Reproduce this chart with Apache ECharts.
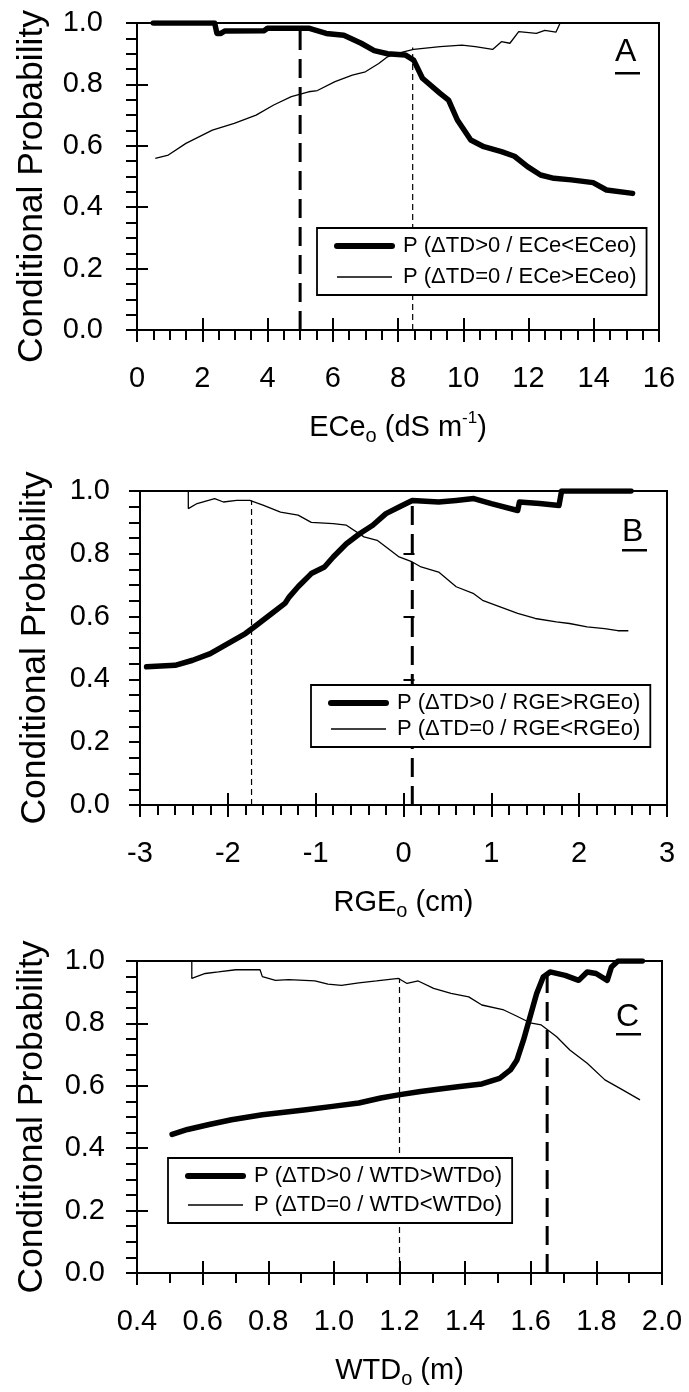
<!DOCTYPE html>
<html>
<head>
<meta charset="utf-8">
<script src="https://cdn.jsdelivr.net/npm/echarts@6/dist/echarts.min.js"></script>
<style>
html,body{margin:0;padding:0;background:#fff;}
#chart{width:689px;height:1392px;}
</style>
</head>
<body>
<div id="chart"></div>
<script>
// ---------- Panel A: ECe_o ----------
const aThickX = [0.5, 2.38, 2.45, 2.57, 2.7, 3.9, 4.0, 5.26, 5.8, 6.34, 6.87, 7.27, 7.68, 8.22, 8.48, 8.75, 9.29, 9.55, 9.82, 10.23, 10.63, 11.17, 11.57, 11.97, 12.37, 12.78, 13.31, 13.98, 14.39, 15.19];
const aThickY = [1.0, 1.0, 0.966, 0.966, 0.974, 0.975, 0.983, 0.983, 0.966, 0.96, 0.934, 0.91, 0.9, 0.896, 0.879, 0.82, 0.771, 0.749, 0.684, 0.619, 0.597, 0.581, 0.566, 0.532, 0.505, 0.494, 0.489, 0.48, 0.456, 0.445];
const aThinX = [0.56, 0.96, 1.5, 2.31, 2.98, 3.65, 4.19, 4.73, 5.26, 5.53, 6.07, 6.6, 7.0, 7.41, 7.68, 7.95, 8.48, 9.29, 9.96, 10.37, 10.9, 11.17, 11.43, 11.7, 12.24, 12.5, 12.84, 12.97, 15.19];
const aThinY = [0.559, 0.57, 0.608, 0.651, 0.673, 0.70, 0.733, 0.76, 0.776, 0.78, 0.809, 0.83, 0.841, 0.868, 0.89, 0.90, 0.914, 0.923, 0.928, 0.923, 0.914, 0.939, 0.934, 0.972, 0.966, 0.976, 0.97, 1.0, 1.0];
const aThreshold = { thick: [5.0, 0.983], thin: [8.45, 0.92] };
const aNames = ['P (\u0394TD>0 / ECe<ECeo)', 'P (\u0394TD=0 / ECe>ECeo)'];

// ---------- Panel B: RGE_o ----------
const bThickX = [-2.925, -2.6, -2.4, -2.2, -2.0, -1.8, -1.7, -1.5, -1.35, -1.3, -1.2, -1.05, -0.9, -0.8, -0.65, -0.5, -0.35, -0.2, -0.05, 0.1, 0.4, 0.6, 0.8, 1.0, 1.3, 1.32, 1.55, 1.77, 1.8, 2.59];
const bThickY = [0.44, 0.445, 0.461, 0.482, 0.514, 0.546, 0.567, 0.61, 0.642, 0.663, 0.695, 0.737, 0.758, 0.79, 0.832, 0.864, 0.891, 0.928, 0.949, 0.97, 0.965, 0.97, 0.976, 0.96, 0.938, 0.965, 0.96, 0.954, 1.0, 1.0];
const bThinX = [-2.9, -2.45, -2.45, -2.35, -2.15, -2.05, -1.9, -1.75, -1.6, -1.4, -1.2, -1.05, -0.8, -0.65, -0.45, -0.3, -0.15, -0.05, 0.1, 0.2, 0.4, 0.6, 0.8, 0.9, 1.1, 1.3, 1.5, 1.74, 1.89, 2.09, 2.29, 2.44, 2.56];
const bThinY = [1.0, 1.0, 0.944, 0.96, 0.976, 0.965, 0.97, 0.97, 0.955, 0.933, 0.923, 0.90, 0.896, 0.891, 0.854, 0.843, 0.811, 0.79, 0.774, 0.758, 0.742, 0.695, 0.673, 0.652, 0.631, 0.61, 0.594, 0.583, 0.578, 0.567, 0.562, 0.555, 0.555];
const bThreshold = { thick: [0.1, 0.97], thin: [-1.73, 0.97] };
const bNames = ['P (\u0394TD>0 / RGE>RGEo)', 'P (\u0394TD=0 / RGE<RGEo)'];

// ---------- Panel C: WTD_o ----------
const cThickX = [0.507, 0.554, 0.62, 0.688, 0.782, 0.849, 0.915, 0.996, 1.076, 1.143, 1.197, 1.264, 1.317, 1.384, 1.451, 1.505, 1.538, 1.558, 1.578, 1.598, 1.618, 1.638, 1.659, 1.705, 1.746, 1.772, 1.799, 1.833, 1.846, 1.866, 1.94];
const cThickY = [0.444, 0.46, 0.476, 0.491, 0.507, 0.515, 0.523, 0.534, 0.545, 0.561, 0.571, 0.582, 0.589, 0.598, 0.606, 0.624, 0.651, 0.683, 0.747, 0.821, 0.896, 0.949, 0.965, 0.954, 0.938, 0.965, 0.96, 0.938, 0.981, 1.0, 1.0];
const cThinX = [0.5, 0.567, 0.567, 0.608, 0.648, 0.701, 0.775, 0.782, 0.822, 0.862, 0.942, 0.982, 1.023, 1.076, 1.13, 1.197, 1.223, 1.257, 1.304, 1.357, 1.411, 1.451, 1.518, 1.558, 1.598, 1.632, 1.679, 1.719, 1.772, 1.826, 1.88, 1.933];
const cThinY = [1.0, 1.0, 0.944, 0.96, 0.965, 0.972, 0.972, 0.95, 0.938, 0.94, 0.936, 0.926, 0.922, 0.93, 0.936, 0.944, 0.928, 0.936, 0.912, 0.896, 0.885, 0.859, 0.843, 0.823, 0.802, 0.795, 0.757, 0.715, 0.672, 0.619, 0.587, 0.555];
const cThreshold = { thick: [1.65, 0.96], thin: [1.2, 0.944] };
const cNames = ['P (\u0394TD>0 / WTD>WTDo)', 'P (\u0394TD=0 / WTD<WTDo)'];

// ---------- Axis tick labels ----------
const yTicks = { min: 0, max: 1, interval: 0.2 };
const xTicksA = { min: 0, max: 16, interval: 2, minor: 4, dec: 0 };
const xTicksB = { min: -3, max: 3, interval: 1, minor: 5, dec: 0 };
const xTicksC = { min: 0.4, max: 2.0, interval: 0.2, minor: 2, dec: 1 };
const yTitle = 'Conditional Probability';
const xTitles = ['{m|ECe}{s|o}{m| (dS m}{p|-1}{m|)}', '{m|RGE}{s|o}{m| (cm)}', '{m|WTD}{s|o}{m| (m)}'];
const panelLetters = ['A', 'B', 'C'];

const FONT = '"Liberation Sans", Arial, Helvetica, sans-serif';
const zip = (xs, ys) => xs.map((x, i) => [x, ys[i]]);

const panels = [
  { grid: { left: 137, top: 23, width: 522, height: 307 }, xt: xTicksA, ylm: 34, yShift: 20,
    thick: zip(aThickX, aThickY), thin: zip(aThinX, aThinY), th: aThreshold, names: aNames,
    legend: { left: 317, top: 228, w: 333, h: 74, gap: 9 }, letter: [615, 36, 72] },
  { grid: { left: 140, top: 491, width: 527, height: 314 }, xt: xTicksB, ylm: 30, yShift: 0,
    thick: zip(bThickX, bThickY), thin: zip(bThinX, bThinY), th: bThreshold, names: bNames,
    legend: { left: 311, top: 685, w: 350, h: 63, gap: 4 }, letter: [622, 516, 549] },
  { grid: { left: 137, top: 961, width: 525, height: 312 }, xt: xTicksC, ylm: 32, yShift: 0,
    thick: zip(cThickX, cThickY), thin: zip(cThinX, cThinY), th: cThreshold, names: cNames,
    legend: { left: 168, top: 1158, w: 348, h: 70, gap: 7 }, letter: [616, 1001, 1033] }
];

const grids = [], xAxes = [], yAxes = [], series = [], legends = [], graphics = [];
const richName = {
  m: { fontSize: 29, fontFamily: FONT, color: '#000', lineHeight: 36 },
  s: { fontSize: 20, fontFamily: FONT, color: '#000', lineHeight: 12, verticalAlign: 'bottom' },
  p: { fontSize: 17, fontFamily: FONT, color: '#000', lineHeight: 20, verticalAlign: 'top' }
};
const hiddenSymbol = { color: 'rgba(0,0,0,0)', borderColor: 'rgba(0,0,0,0)', borderWidth: 0 };

panels.forEach((p, i) => {
  const g = p.grid;
  grids.push({ left: g.left, top: g.top, width: g.width, height: g.height, show: true,
    borderColor: '#000', borderWidth: 2, backgroundColor: 'transparent', containLabel: false });
  grids.push({ left: g.left, top: g.top, width: g.width, height: g.height, show: false });
  const gi = i * 2;
  const dec = p.xt.dec;
  xAxes.push({
    type: 'value', gridIndex: gi, min: p.xt.min, max: p.xt.max, interval: p.xt.interval,
    name: xTitles[i], nameLocation: 'middle', nameGap: 80,
    nameTextStyle: { rich: richName },
    axisLine: { show: true, onZero: false, lineStyle: { color: '#000', width: 2 } },
    axisTick: { show: true, inside: false, length: 12, lineStyle: { color: '#000', width: 2 } },
    minorTick: { show: true, splitNumber: p.xt.minor, length: 10, lineStyle: { color: '#000', width: 2 } },
    axisLabel: { margin: 34, fontSize: 29, fontFamily: FONT, color: '#000',
      formatter: v => Number(v).toFixed(dec) },
    splitLine: { show: false }, minorSplitLine: { show: false }
  });
  xAxes.push({
    type: 'value', gridIndex: gi + 1, min: p.xt.min, max: p.xt.max, interval: p.xt.interval,
    axisLine: { show: false },
    axisTick: { show: true, inside: true, length: 12, lineStyle: { color: '#000', width: 2 } },
    axisLabel: { show: false }, splitLine: { show: false }
  });
  yAxes.push({
    type: 'value', gridIndex: gi, min: yTicks.min, max: yTicks.max, interval: yTicks.interval,
    name: yTitle, nameLocation: 'middle', nameGap: 87, nameRotate: 90,
    nameTextStyle: { fontSize: 35.5, fontFamily: FONT, color: '#000',
      padding: [0, p.yShift, 0, 0] },
    axisLine: { show: true, onZero: false, lineStyle: { color: '#000', width: 2 } },
    axisTick: { show: true, inside: false, length: 11, lineStyle: { color: '#000', width: 2 } },
    minorTick: { show: true, splitNumber: 4, length: 11, lineStyle: { color: '#000', width: 2 } },
    axisLabel: { margin: p.ylm, fontSize: 29, fontFamily: FONT, color: '#000',
      formatter: v => Number(v).toFixed(1) },
    splitLine: { show: false }, minorSplitLine: { show: false }
  });
  yAxes.push({
    type: 'value', gridIndex: gi + 1, min: yTicks.min, max: yTicks.max, interval: yTicks.interval,
    axisLine: { show: false },
    axisTick: { show: true, inside: true, length: 11, lineStyle: { color: '#000', width: 2 } },
    axisLabel: { show: false }, splitLine: { show: false }
  });
  const ax = i * 2;
  series.push({
    name: p.names[0], type: 'line', xAxisIndex: ax, yAxisIndex: ax, data: p.thick,
    showSymbol: false, symbol: 'none', lineStyle: { color: '#000', width: 5.5, join: 'round', cap: 'round' },
    itemStyle: { color: '#000' }, silent: true, animation: false, z: 4
  });
  series.push({
    name: p.names[1], type: 'line', xAxisIndex: ax, yAxisIndex: ax, data: p.thin,
    showSymbol: false, symbol: 'none', lineStyle: { color: '#000', width: 1.3 },
    itemStyle: { color: '#000' }, silent: true, animation: false, z: 3
  });
  series.push({
    name: 'thick threshold ' + panelLetters[i], type: 'line', xAxisIndex: ax, yAxisIndex: ax,
    data: [[p.th.thick[0], 0], [p.th.thick[0], p.th.thick[1]]],
    showSymbol: false, symbol: 'none', lineStyle: { color: '#000', width: 3, type: [19, 9] },
    silent: true, animation: false, z: 2
  });
  series.push({
    name: 'thin threshold ' + panelLetters[i], type: 'line', xAxisIndex: ax, yAxisIndex: ax,
    data: [[p.th.thin[0], 0], [p.th.thin[0], p.th.thin[1]]],
    showSymbol: false, symbol: 'none', lineStyle: { color: '#000', width: 1.2, type: [6, 4] },
    silent: true, animation: false, z: 2
  });
  const L = p.legend;
  legends.push({
    data: [
      { name: p.names[0], lineStyle: { width: 6, color: '#000' }, itemStyle: hiddenSymbol },
      { name: p.names[1], lineStyle: { width: 1.3, color: '#000' }, itemStyle: hiddenSymbol }
    ],
    orient: 'vertical', left: L.left, top: L.top, width: L.w, height: L.h,
    backgroundColor: '#fff', borderColor: '#000', borderWidth: 1.8,
    padding: [7, 10, 7, 17], itemWidth: 55, itemHeight: 12, itemGap: L.gap,
    selectedMode: false, inactiveColor: '#000',
    textStyle: { fontSize: 22, fontFamily: FONT, color: '#000', padding: [0, 0, 0, 6] }
  });
  graphics.push({ type: 'text', left: p.letter[0], top: p.letter[1],
    style: { text: panelLetters[i], fontSize: 32, fontFamily: FONT, fill: '#000' } });
  graphics.push({ type: 'rect', shape: { x: p.letter[0], y: p.letter[2], width: 25, height: 2.5 },
    style: { fill: '#000' } });
});

const chart = echarts.init(document.getElementById('chart'), null, { renderer: 'canvas' });
chart.setOption({
  backgroundColor: '#fff',
  animation: false,
  grid: grids, xAxis: xAxes, yAxis: yAxes, series: series, legend: legends, graphic: graphics
});
</script>
</body>
</html>
